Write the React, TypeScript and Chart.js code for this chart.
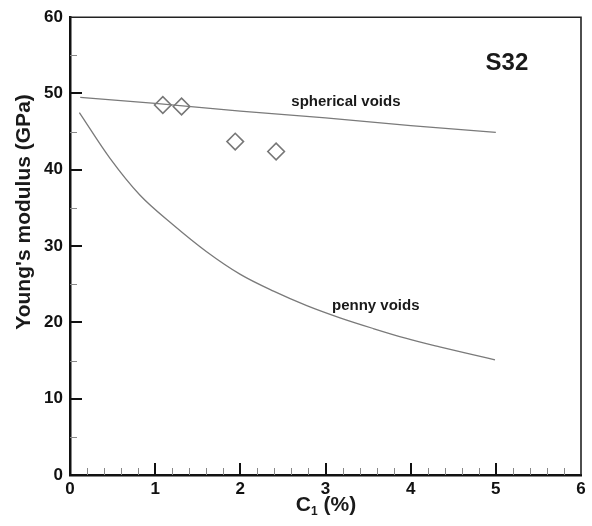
import React, { useEffect, useRef } from "react";
import { Chart, registerables } from "chart.js";
Chart.register(...registerables);

// ---- data ----
const sphericalC = [0.12, 1, 2, 3, 4, 5];
const sphericalE = [49.5, 48.7, 47.7, 46.8, 45.8, 44.9];

const pennyC = [0.11, 0.47, 0.82, 1.21, 1.6, 2.0, 2.39, 2.78, 3.17, 3.56, 3.95, 4.34, 4.74, 4.99];
const pennyE = [47.5, 41.5, 36.7, 32.8, 29.3, 26.3, 24.1, 22.2, 20.6, 19.2, 17.9, 16.8, 15.75, 15.1];

const measuredC = [1.09, 1.31, 1.94, 2.42];
const measuredE = [48.5, 48.3, 43.7, 42.4];

const xMajorTicks = [0, 1, 2, 3, 4, 5, 6];
const yMajorTicks = [0, 10, 20, 30, 40, 50, 60];
const xMinorStep = 0.2;
const yMinorStep = 5;

const labelSpherical = { text: "spherical voids", c: 3.24, e: 48.9 };
const labelPenny = { text: "penny voids", c: 3.59, e: 22.2 };
const labelSample = { text: "S32", c: 5.13, e: 53.9 };

const xTitleMain = "C";
const xTitleSub = "1";
const xTitleRest = " (%)";
const yTitle = "Young's modulus (GPa)";

const FONT = '"Liberation Sans", Arial, Helvetica, sans-serif';

export default function App() {
  const ref = useRef<HTMLCanvasElement>(null);

  useEffect(() => {
    const canvas = ref.current;
    if (!canvas) return;

    const deco = {
      id: "deco",
      afterDraw(chart: any) {
        const { ctx, chartArea: a } = chart;
        const x = chart.scales.x;
        const y = chart.scales.y;
        ctx.save();
        // top & right frame
        ctx.strokeStyle = "#222";
        ctx.lineWidth = 1.6;
        ctx.beginPath();
        ctx.moveTo(a.left, a.top);
        ctx.lineTo(a.right, a.top);
        ctx.lineTo(a.right, a.bottom);
        ctx.stroke();

        // minor ticks x
        ctx.strokeStyle = "#888";
        ctx.lineWidth = 1;
        for (let i = 1; i < 30; i++) {
          const v = i * xMinorStep;
          if (Math.abs(v - Math.round(v)) < 1e-6) continue;
          const px = Math.round(x.getPixelForValue(v)) + 0.5;
          ctx.beginPath();
          ctx.moveTo(px, a.bottom);
          ctx.lineTo(px, a.bottom - 7);
          ctx.stroke();
        }
        // minor ticks y
        for (let v = yMinorStep; v < 60; v += 10) {
          const py = Math.round(y.getPixelForValue(v)) + 0.5;
          ctx.beginPath();
          ctx.moveTo(a.left, py);
          ctx.lineTo(a.left + 7, py);
          ctx.stroke();
        }
        // major ticks
        ctx.strokeStyle = "#111";
        ctx.lineWidth = 2;
        xMajorTicks.forEach((v) => {
          if (v === 0 || v === 6) return;
          const px = Math.round(x.getPixelForValue(v));
          ctx.beginPath();
          ctx.moveTo(px, a.bottom);
          ctx.lineTo(px, a.bottom - 12);
          ctx.stroke();
        });
        yMajorTicks.forEach((v) => {
          if (v === 0 || v === 60) return;
          const py = Math.round(y.getPixelForValue(v));
          ctx.beginPath();
          ctx.moveTo(a.left, py);
          ctx.lineTo(a.left + 12, py);
          ctx.stroke();
        });

        // annotations
        ctx.fillStyle = "#1a1a1a";
        ctx.textAlign = "center";
        ctx.textBaseline = "middle";
        ctx.font = `bold 15px ${FONT}`;
        ctx.fillText(labelSpherical.text, x.getPixelForValue(labelSpherical.c), y.getPixelForValue(labelSpherical.e));
        ctx.fillText(labelPenny.text, x.getPixelForValue(labelPenny.c), y.getPixelForValue(labelPenny.e));
        ctx.font = `bold 24px ${FONT}`;
        ctx.fillText(labelSample.text, x.getPixelForValue(labelSample.c), y.getPixelForValue(labelSample.e));

        // x title with subscript
        const big = `bold 21px ${FONT}`;
        const small = `bold 12px ${FONT}`;
        ctx.font = big;
        const wC = ctx.measureText(xTitleMain).width;
        const wR = ctx.measureText(xTitleRest).width;
        ctx.font = small;
        const wS = ctx.measureText(xTitleSub).width;
        const total = wC + wS + wR;
        const cx = 326;
        const cy = 503;
        let sx = cx - total / 2;
        ctx.textAlign = "left";
        ctx.textBaseline = "alphabetic";
        ctx.font = big;
        ctx.fillText(xTitleMain, sx, cy + 8);
        sx += wC;
        ctx.font = small;
        ctx.fillText(xTitleSub, sx, cy + 12);
        sx += wS;
        ctx.font = big;
        ctx.fillText(xTitleRest, sx, cy + 8);

        // y title
        ctx.translate(24, 212);
        ctx.rotate(-Math.PI / 2);
        ctx.textAlign = "center";
        ctx.textBaseline = "middle";
        ctx.font = big;
        ctx.fillText(yTitle, 0, 0);
        ctx.restore();
      },
    };

    const chart = new Chart(canvas, {
      type: "line",
      data: {
        datasets: [
          {
            label: "spherical voids",
            data: sphericalC.map((c, i) => ({ x: c, y: sphericalE[i] })),
            borderColor: "#7a7a7a",
            borderWidth: 1.3,
            pointRadius: 0,
            fill: false,
          },
          {
            label: "penny voids",
            data: pennyC.map((c, i) => ({ x: c, y: pennyE[i] })),
            borderColor: "#7a7a7a",
            borderWidth: 1.3,
            pointRadius: 0,
            cubicInterpolationMode: "monotone",
            fill: false,
          },
          {
            label: "measured",
            data: measuredC.map((c, i) => ({ x: c, y: measuredE[i] })),
            showLine: false,
            pointStyle: "rectRot",
            pointRadius: 8.3,
            pointBorderWidth: 1.6,
            pointBorderColor: "#777",
            pointBackgroundColor: "rgba(255,255,255,0)",
          },
        ],
      },
      options: {
        responsive: false,
        animation: false,
        layout: { padding: { top: 15, right: 11, left: 0, bottom: 0 } },
        plugins: { legend: { display: false }, tooltip: { enabled: false } },
        scales: {
          x: {
            type: "linear",
            min: 0,
            max: 6,
            afterFit: (s: any) => {
              s.height = 51;
            },
            grid: { display: false, drawTicks: false },
            border: { display: true, color: "#111", width: 2.5 },
            ticks: {
              stepSize: 1,
              padding: 4,
              color: "#111",
              font: { family: FONT, size: 17, weight: "bold" },
              maxRotation: 0,
            },
          },
          y: {
            type: "linear",
            min: 0,
            max: 60,
            afterFit: (s: any) => {
              s.width = 70;
            },
            grid: { display: false, drawTicks: false },
            border: { display: true, color: "#111", width: 2.5 },
            ticks: {
              stepSize: 10,
              padding: 7,
              color: "#111",
              font: { family: FONT, size: 17, weight: "bold" },
            },
          },
        },
      },
      plugins: [deco],
    });

    return () => chart.destroy();
  }, []);

  return (
    <div style={{ position: "absolute", left: 0, top: 0, width: 592, height: 526, background: "#fff" }}>
      <canvas ref={ref} width={592} height={526} />
    </div>
  );
}
